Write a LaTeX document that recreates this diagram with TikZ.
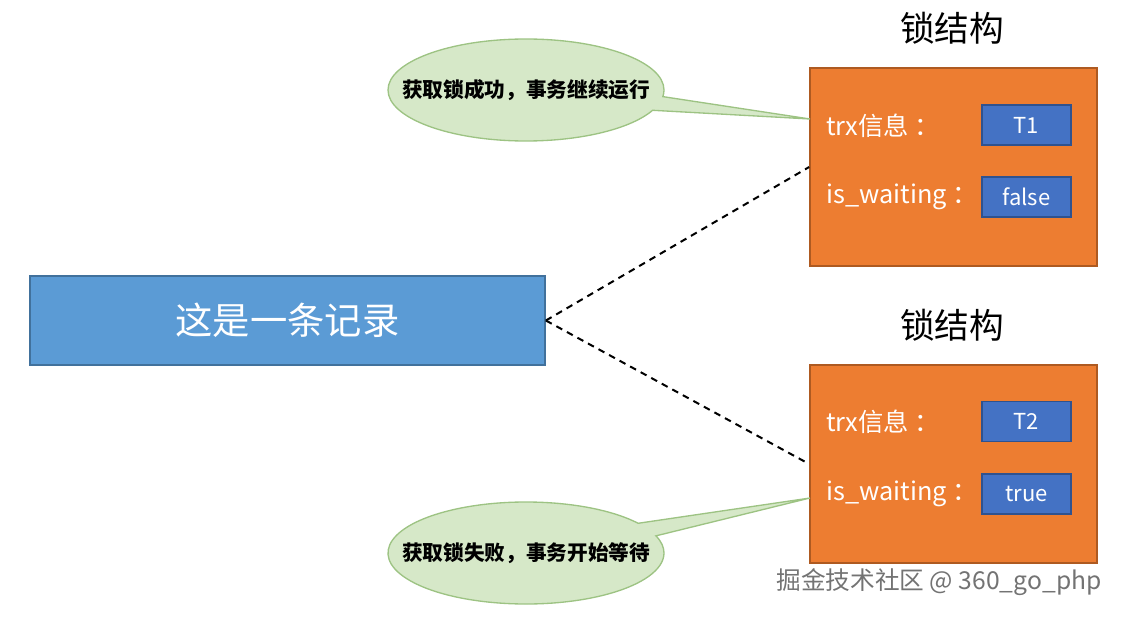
\documentclass[tikz,border=0pt]{standalone}
\usepackage{fontspec}
\setmainfont{Noto Sans CJK SC}
\usetikzlibrary{positioning,shapes.callouts}
\definecolor{recblue}{HTML}{5B9BD5}
\definecolor{recborder}{HTML}{41719C}
\definecolor{lockorange}{HTML}{ED7D31}
\definecolor{lockborder}{HTML}{AE5A21}
\definecolor{valblue}{HTML}{4472C4}
\definecolor{valborder}{HTML}{2F528F}
\definecolor{bubblegreen}{HTML}{D6E8C8}
\definecolor{bubbleborder}{HTML}{9DC383}
\tikzstyle{record}=[draw=recborder,fill=recblue,line width=1.5pt,minimum width=386pt,minimum height=67pt,text=white,font=\fontsize{28}{32}\selectfont]
\tikzstyle{lockbox}=[draw=lockborder,fill=lockorange,line width=1.5pt,minimum width=215pt,minimum height=148.5pt]
\tikzstyle{valbox}=[draw=valborder,fill=valblue,line width=1pt,minimum width=66.75pt,minimum height=30pt,inner sep=0pt,text=white,font=\fontsize{16.5}{20}\selectfont]
\tikzstyle{field}=[anchor=west,inner sep=0pt,text=white,font=\fontsize{19}{23}\selectfont]
\tikzstyle{locktitle}=[font=\fontsize{26}{30}\selectfont]
\tikzstyle{bubble}=[ellipse callout,draw=bubbleborder,fill=bubblegreen,line width=1pt,minimum width=207pt,minimum height=76.5pt,inner sep=0pt,callout pointer arc=16]
\tikzstyle{bubbletext}=[font=\bfseries\fontsize{15.5}{18}\selectfont]
\tikzstyle{link}=[line width=1.5pt,dash pattern=on 5pt off 4pt]
\tikzstyle{watermark}=[text=black!55,font=\fontsize{18.5}{22}\selectfont]
\begin{document}
\begin{tikzpicture}[x=0.75pt,y=-0.75pt]
    \useasboundingbox (0,0) rectangle (1124,617);
    \node [record] (rec) at (287.5,320.5) {这是一条记录};
    % first lock structure
    \node [lockbox] (lock1) at (953.5,167) {};
    \node [locktitle] (title1) at (952,28) {锁结构};
    \node [field] (trx1) at (826,126) {trx信息\ ：};
    \node [field] (wait1) at (826,197) {is\_waiting\ ：};
    \node [valbox] (t1) at (1026.5,125) {T1};
    \node [valbox] (f1) at (1026.5,197) {false};
    % second lock structure
    \node [lockbox] (lock2) at (953.5,464) {};
    \node [locktitle] (title2) at (952,325) {锁结构};
    \node [field] (trx2) at (826,422) {trx信息\ ：};
    \node [field] (wait2) at (826,494) {is\_waiting\ ：};
    \node [valbox] (t2) at (1026.5,421.5) {T2};
    \node [valbox] (f2) at (1026.5,494) {true};
    \draw [link] (rec.east) -- (lock1.west);
    \draw [link] (rec.east) -- (lock2.west);
    % callouts
    \coordinate (tip1) at (810,119);
    \coordinate (tip2) at (810,498);
    \node [bubble,callout absolute pointer=(tip1)] (ok) at (526,90) {};
    \node [bubbletext] (oktext) at (ok.center) {获取锁成功，事务继续运行};
    \node [bubble,callout absolute pointer=(tip2)] (fail) at (526,553) {};
    \node [bubbletext] (failtext) at (fail.center) {获取锁失败，事务开始等待};
    \node [watermark] (wm) at (939,582) {掘金技术社区 @ 360\_go\_php};
\end{tikzpicture}
\end{document}
